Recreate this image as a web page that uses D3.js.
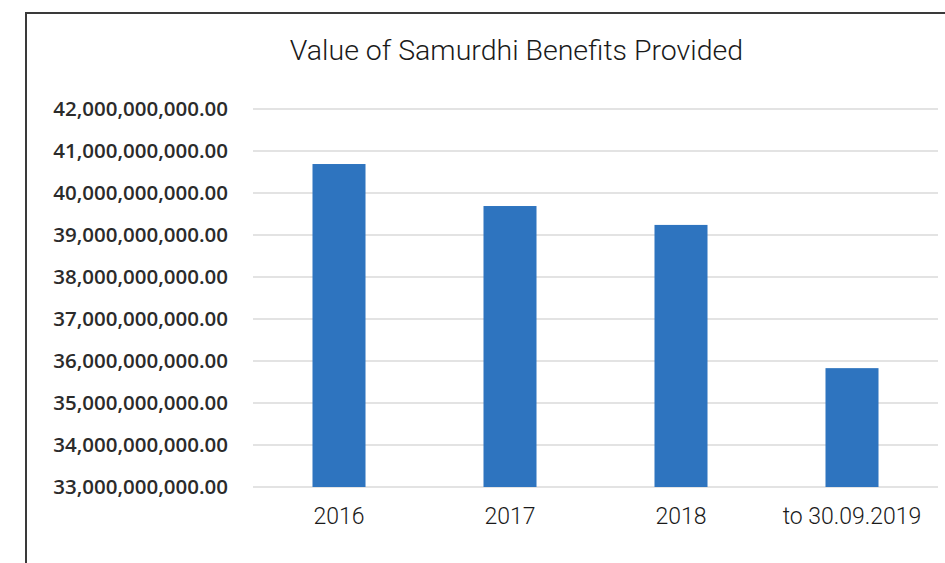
<!DOCTYPE html>
<html>
<head>
<meta charset="utf-8">
<script src="https://cdn.jsdelivr.net/npm/d3@7"></script>
<style>
  body { margin: 0; background: #fff; }
  svg { display: block; }
</style>
</head>
<body>
<svg id="chart" width="945" height="563"></svg>
<script>
// data
var categories = ["2016", "2017", "2018", "to 30.09.2019"];
var values = [40690000000, 39690000000, 39240000000, 35830000000];
var yTicks = [33e9, 34e9, 35e9, 36e9, 37e9, 38e9, 39e9, 40e9, 41e9, 42e9];
var title = "Value of Samurdhi Benefits Provided";

var svg = d3.select("#chart");

// frame (top and left edge only, rest is cropped)
svg.append("path")
    .attr("d", "M26,563 V13 H945")
    .attr("fill", "none")
    .attr("stroke", "#3a3a3a")
    .attr("stroke-width", 2);

var x = d3.scaleBand()
    .domain(categories)
    .range([253.5, 937.5])
    .paddingInner(0.69)
    .paddingOuter(0.345);

var y = d3.scaleLinear()
    .domain([33e9, 42e9])
    .range([487, 109]);

// gridlines
svg.append("g")
    .selectAll("line")
    .data(yTicks)
    .join("line")
    .attr("x1", 253)
    .attr("x2", 938)
    .attr("y1", d => y(d))
    .attr("y2", d => y(d))
    .attr("stroke", "#e3e3e3")
    .attr("stroke-width", 2);

// y axis labels
var fmt = d3.format(",.2f");
var yAxis = d3.axisLeft(y).tickValues(yTicks).tickFormat(fmt).tickSize(0).tickPadding(0);
var gy = svg.append("g")
    .attr("transform", "translate(228,0)")
    .call(yAxis);
gy.select(".domain").remove();
gy.selectAll("text")
    .attr("font-family", "'Open Sans', sans-serif")
    .attr("font-weight", 600)
    .attr("font-size", 20.5)
    .attr("fill", "#2b2b2b");

// bars
svg.append("g")
    .selectAll("rect")
    .data(values)
    .join("rect")
    .attr("x", (d, i) => x(categories[i]))
    .attr("width", x.bandwidth())
    .attr("y", d => y(d))
    .attr("height", d => y(33e9) - y(d))
    .attr("fill", "#2e74bf");

// x axis labels
var xAxis = d3.axisBottom(x).tickSize(0).tickPadding(0);
var gx = svg.append("g")
    .attr("transform", "translate(0,508)")
    .call(xAxis);
gx.select(".domain").remove();
gx.selectAll("text")
    .attr("font-family", "Roboto, sans-serif")
    .attr("font-weight", 300)
    .attr("font-size", 23)
    .attr("fill", "#1a1a1a");

// title
svg.append("text")
    .attr("x", 516.5)
    .attr("y", 60)
    .attr("text-anchor", "middle")
    .attr("font-family", "Roboto, sans-serif")
    .attr("font-weight", 300)
    .attr("font-size", 28.5)
    .attr("fill", "#1a1a1a")
    .text(title);
</script>
</body>
</html>
